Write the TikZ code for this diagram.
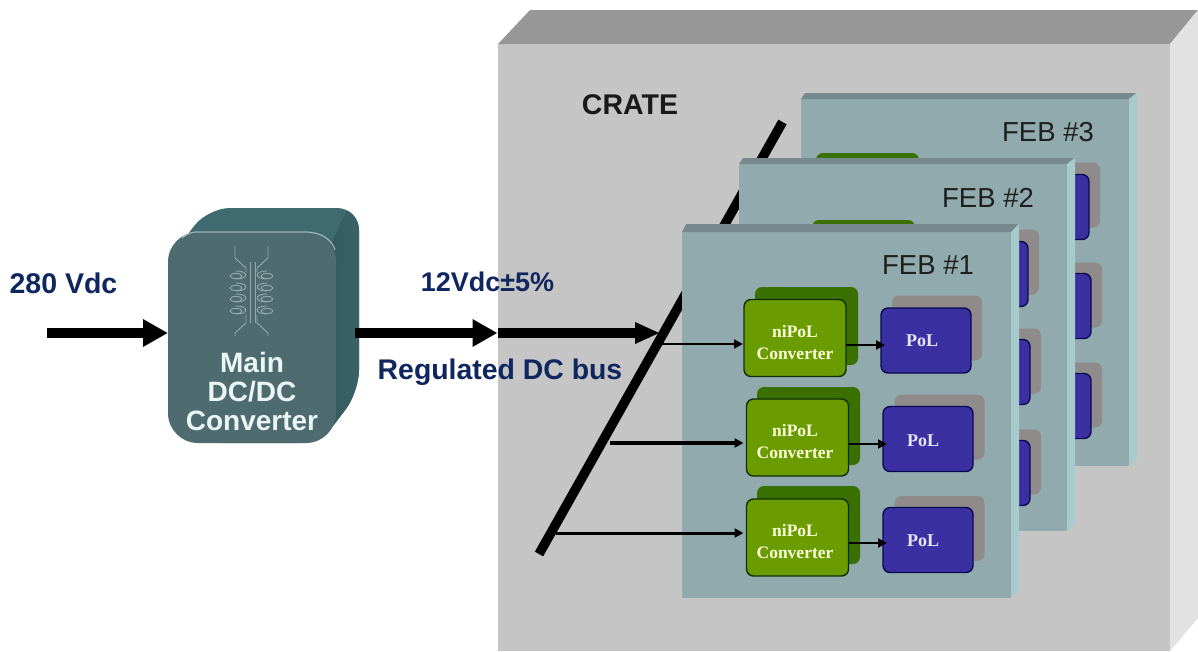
\documentclass[tikz,border=0pt]{standalone}
\usepackage{fontspec}
\setmainfont{Liberation Sans}
\newfontfamily\serifbk{Liberation Serif}
\usetikzlibrary{arrows.meta,calc}
\definecolor{navy}{HTML}{10265E}
\definecolor{crateF}{HTML}{C5C5C5}
\definecolor{crateT}{HTML}{979797}
\definecolor{crateR}{HTML}{E2E2E2}
\definecolor{boardF}{HTML}{90AAAE}
\definecolor{boardT}{HTML}{76898C}
\definecolor{boardR}{HTML}{A7CBCB}
\definecolor{greenF}{HTML}{6A9C00}
\definecolor{greenB}{HTML}{3A7000}
\definecolor{greenL}{HTML}{0F2E08}
\definecolor{blueF}{HTML}{3A30A2}
\definecolor{blueL}{HTML}{0A0A50}
\definecolor{grayB}{HTML}{8F8B8B}
\definecolor{convF}{HTML}{4E6B70}
\definecolor{convT}{HTML}{3F6B70}
\definecolor{convSa}{HTML}{2D4F53}
\definecolor{convSb}{HTML}{3C666A}
\definecolor{coil}{HTML}{93ABAD}
\tikzset{
  box/.style={rectangle,inner sep=0pt,outer sep=0pt,rounded corners=7pt},
  greenfront/.style={box,fill=greenF,draw=greenL,line width=1.4pt,minimum width=102pt,minimum height=77pt},
  greenback/.style={box,fill=greenB,minimum width=103pt,minimum height=78pt},
  bluefront/.style={box,fill=blueF,draw=blueL,line width=1.4pt,minimum width=90pt,minimum height=65pt},
  grayback/.style={box,fill=grayB,minimum width=90pt,minimum height=65pt},
  febtext/.style={font=\fontsize{27.5}{27.5}\selectfont,text=black!88,inner sep=0pt},
  navytext/.style={font=\bfseries\fontsize{#1}{#1}\selectfont,text=navy,inner sep=0pt},
  nipol/.style={font=\serifbk\bfseries\fontsize{17.5}{22}\selectfont,text=green!10!yellow!15!white,align=center,inner sep=0pt},
  pol/.style={font=\serifbk\bfseries\fontsize{18}{18}\selectfont,text=white!90!blue,inner sep=0pt},
  bigarrow/.style={line width=10pt,-{Triangle[length=25pt,width=26pt]}},
  bigarrowb/.style={line width=10pt,-{Triangle[length=25pt,width=20pt]}},
  thin arrow/.style={line width=#1,-{Triangle[length=9pt,width=9pt]}},
  coilline/.style={draw=coil,line width=0.9pt}
}
% board panel: left, strip top, face top, face right, bottom
\newcommand{\boardpanel}[5]{%
  \fill[boardF] (#1,#3) rectangle (#4,#5);
  \fill[boardT] (#1,#3) -- (#1+4,#2) -- (#4+7,#2) -- (#4,#3) -- cycle;
  \fill[boardR] (#4,#3) -- (#4+8,#2) -- (#4+8,#5-8) -- (#4,#5) -- cycle;
}
\begin{document}
\begin{tikzpicture}[x=1pt,y=-1pt]
\useasboundingbox (0,0) rectangle (1198,651);
\fill[white] (0,0) rectangle (1198,651);

% crate
\fill[crateF] (498,44) rectangle (1170,651);
\fill[crateT] (498,44) -- (530,10) -- (1198,10) -- (1170,44) -- cycle;
\fill[crateR] (1170,44) -- (1198,10) -- (1198,618) -- (1170,651) -- cycle;
\node[font=\bfseries\fontsize{28.5}{28.5}\selectfont,text=black!90,inner sep=0pt] (crate) at (630,105) {CRATE};

% bus bar
\coordinate (busTop) at (782.5,122);
\coordinate (busBot) at (539,554);
\draw[line width=9.5pt,black] (busTop) -- (busBot);

% FEB 3
\boardpanel{801}{93}{99}{1129}{466}
\node[greenback] (g3b) at (867.5,192) {};
\node[grayback] (k3a) at (1055,195) {};
\node[bluefront] (b3a) at (1044,207) {};
\node[grayback] (k3b) at (1057,295) {};
\node[bluefront] (b3b) at (1046,306) {};
\node[grayback] (k3c) at (1057,395) {};
\node[bluefront] (b3c) at (1046,406) {};
\node[febtext] (feb3) at (1048,132) {FEB \#3};

% FEB 2
\boardpanel{739}{158}{164}{1067}{531}
\node[greenback] (g2b) at (863.5,259) {};
\node[grayback] (k2a) at (994,262) {};
\node[bluefront] (b2a) at (983,274) {};
\node[grayback] (k2b) at (996,361) {};
\node[bluefront] (b2b) at (985,372) {};
\node[grayback] (k2c) at (996,462) {};
\node[bluefront] (b2c) at (985,473) {};
\node[febtext] (feb2) at (988,198) {FEB \#2};

% FEB 1
\boardpanel{682}{224}{232}{1011}{598}
\node[febtext] (feb1) at (928,265) {FEB \#1};
\node[greenback] (g1b) at (806.5,326) {};
\node[greenfront] (g1) at (795,338) {};
\node[nipol] (t1) at (795,343) {niPoL\\Converter};
\node[grayback] (k1) at (937,328) {};
\node[bluefront] (p1) at (926,340.5) {};
\node[pol] (q1) at (922,341) {PoL};

\node[greenback] (g2back) at (808.5,426) {};
\node[greenfront] (g2) at (797.5,437.5) {};
\node[nipol] (t2) at (795,442) {niPoL\\Converter};
\node[grayback] (k2) at (939.5,427) {};
\node[bluefront] (p2) at (928,439) {};
\node[pol] (q2) at (923,441) {PoL};

\node[greenback] (g3back) at (808.5,525) {};
\node[greenfront] (g3) at (797.5,537.5) {};
\node[nipol] (t3) at (795,542) {niPoL\\Converter};
\node[grayback] (k3) at (939.5,528.5) {};
\node[bluefront] (p3) at (928,540) {};
\node[pol] (q3) at (923,541) {PoL};

% branches from the bus
\coordinate (br1) at (658,344);
\coordinate (br2) at (610,443);
\coordinate (br3) at (556,533);
\draw[thin arrow=2.6pt] (br1) -- ([xshift=-1pt]br1 -| g1.west);
\draw[thin arrow=4pt] (br2) -- ([xshift=-3pt]br2 -| g2.west);
\draw[thin arrow=3pt] (br3) -- ([xshift=-3pt]br3 -| g3.west);
% converter to PoL
\coordinate (l1) at (0,345);
\coordinate (l2) at (0,444);
\coordinate (l3) at (0,543);
\draw[thin arrow=2.6pt] (l1 -| g1.east) -- ([xshift=4pt]l1 -| p1.west);
\draw[thin arrow=2.6pt] (l2 -| g2.east) -- ([xshift=4pt]l2 -| p2.west);
\draw[thin arrow=2.6pt] (l3 -| g3.east) -- ([xshift=4pt]l3 -| p3.west);

% main converter body
\begin{scope}
\clip[rounded corners=22pt] (168,260) -- (208,208) -- (359,208) -- (359,392) -- (320,443) -- (200,443) -- cycle;
\fill[convT] (160,200) rectangle (365,450);
\shade[left color=convSa,right color=convSb] (328,250) -- (352,200) -- (365,200) -- (365,450) -- (300,450) -- cycle;
\end{scope}
\node[box,rounded corners=30pt,fill=convF,minimum width=168pt,minimum height=211pt] (conv) at (252,337.5) {};
\draw[draw=coil!90!white,line width=1.2pt] (182,238) .. controls (190,232) and (192,232) .. (200,232) -- (305,232) .. controls (322,232) and (332,240) .. (335,250);

% transformer icon
\draw[coilline] (235,246) -- (235,258) -- (246,268) -- (246,272);
\draw[coilline] (246,315) -- (246,323) -- (235,333) -- (235,336);
\draw[coilline] (268,246) -- (268,258) -- (257,268) -- (257,272);
\draw[coilline] (257,315) -- (257,323) -- (268,333) -- (268,336);
\draw[coilline] (250,262) -- (250,323);
\draw[coilline] (255,262) -- (255,323);
\foreach \yy in {276,288,299,311}{
  \draw[coilline] (236,\yy) ellipse (6pt and 2.6pt);
  \draw[coilline] (267,\yy) ellipse (6pt and 2.6pt);
  \draw[coilline] (236,\yy-5) .. controls (249,\yy-5) and (249,\yy+3) .. (236,\yy+3);
  \draw[coilline] (267,\yy-5) .. controls (254,\yy-5) and (254,\yy+3) .. (267,\yy+3);
}
\node[font=\bfseries\fontsize{28}{29}\selectfont,text=white!92!teal,align=center,inner sep=0pt] (convtext) at (252,391) {Main\\DC/DC\\Converter};

% power arrows
\coordinate (in1) at (47,333);
\coordinate (out1) at (355,333);
\coordinate (mid1) at (497.5,333);
\coordinate (mid2) at (498,333);
\coordinate (busIn) at (660,333);
\draw[bigarrow] (in1) -- (in1 -| conv.west);
\draw[bigarrow] (out1) -- (mid1);
\draw[bigarrowb] (mid2) -- (busIn);

% labels
\node[navytext=28.5] (vin) at (63.5,283) {280 Vdc};
\node[navytext=27] (vout) at (487.5,282) {12Vdc±5\%};
\node[navytext=28.4] (reg) at (500,372) {Regulated DC bus};
\end{tikzpicture}
\end{document}
